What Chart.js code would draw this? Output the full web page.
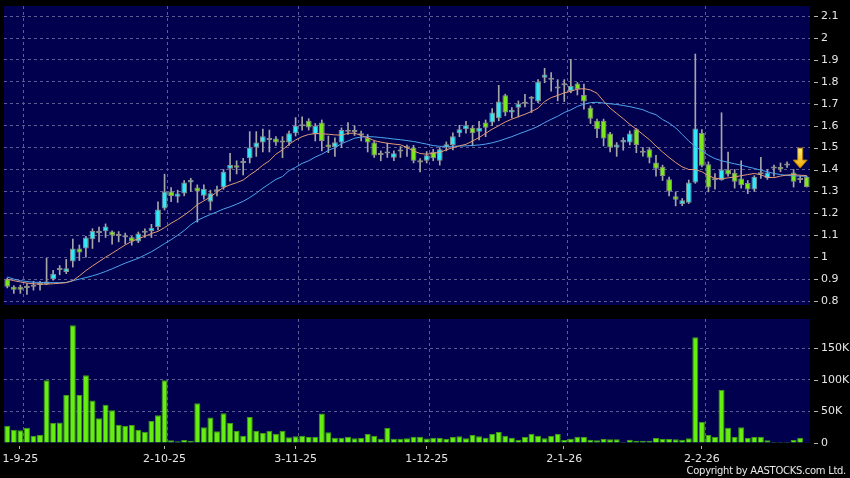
<!DOCTYPE html>
<html>
<head>
<meta charset="utf-8">
<script src="https://cdn.jsdelivr.net/npm/chart.js@4"></script>
<style>
  html, body { margin: 0; padding: 0; background: #000; }
  #wrap { position: relative; width: 850px; height: 478px; background: #000; overflow: hidden; }
  canvas { position: absolute; left: 0; }
  #priceChart { top: 0; }
  #volChart { top: 310px; }
  #copy { position: absolute; right: 4px; top: 465px; color: #e8e8e8; font: 10px "DejaVu Sans"; letter-spacing: -0.3px; }
</style>
</head>
<body>
<div id="wrap">
  <canvas id="priceChart" width="850" height="310"></canvas>
  <canvas id="volChart" width="850" height="168"></canvas>
  <div id="copy">Copyright by AASTOCKS.com Ltd.</div>
</div>
<script>
// daily OHLC (123 trading days)
const opens = [0.90,0.865,0.865,0.86,0.865,0.873,0.878,0.90,0.95,0.932,
  0.98,1.04,1.04,1.082,1.12,1.118,1.117,1.106,1.091,1.091,
  1.072,1.112,1.12,1.138,1.222,1.30,1.276,1.291,1.341,1.318,
  1.28,1.253,1.30,1.318,1.404,1.419,1.43,1.451,1.50,1.523,
  1.535,1.541,1.53,1.523,1.565,1.597,1.622,1.562,1.614,1.514,
  1.502,1.523,1.572,1.58,1.558,1.545,1.523,1.468,1.482,1.454,
  1.482,1.50,1.50,1.442,1.44,1.481,1.44,1.50,1.512,1.565,
  1.584,1.591,1.572,1.614,1.614,1.634,1.739,1.66,1.682,1.70,
  1.723,1.71,1.819,1.81,1.77,1.784,1.758,1.792,1.74,1.682,
  1.622,1.622,1.564,1.50,1.523,1.523,1.584,1.477,1.492,1.432,
  1.413,1.356,1.278,1.243,1.249,1.341,1.567,1.424,1.359,1.351,
  1.40,1.385,1.359,1.339,1.309,1.378,1.36,1.405,1.412,1.427,
  1.387,1.352,1.367];
const highs = [0.905,0.87,0.873,0.88,0.89,0.89,0.995,0.94,0.962,0.99,
  1.083,1.056,1.095,1.13,1.137,1.152,1.12,1.117,1.11,1.095,
  1.115,1.13,1.15,1.253,1.379,1.318,1.306,1.35,1.36,1.33,
  1.33,1.306,1.325,1.40,1.474,1.44,1.451,1.573,1.573,1.584,
  1.58,1.55,1.55,1.575,1.637,1.64,1.632,1.61,1.626,1.553,
  1.545,1.59,1.614,1.60,1.575,1.56,1.53,1.485,1.52,1.485,
  1.505,1.512,1.51,1.45,1.482,1.492,1.50,1.526,1.567,1.602,
  1.62,1.60,1.62,1.626,1.678,1.784,1.744,1.683,1.713,1.743,
  1.733,1.81,1.862,1.842,1.81,1.81,1.903,1.797,1.79,1.69,
  1.63,1.63,1.57,1.523,1.545,1.576,1.587,1.50,1.50,1.465,
  1.42,1.365,1.298,1.268,1.352,1.927,1.582,1.435,1.382,1.659,
  1.48,1.40,1.44,1.35,1.372,1.456,1.40,1.42,1.43,1.435,
  1.40,1.37,1.37];
const lows = [0.86,0.835,0.835,0.83,0.85,0.85,0.875,0.895,0.92,0.925,
  0.955,0.985,1.0,1.04,1.07,1.09,1.06,1.07,1.06,1.055,
  1.066,1.09,1.09,1.125,1.215,1.253,1.25,1.28,1.30,1.16,
  1.265,1.215,1.28,1.31,1.347,1.38,1.375,1.43,1.46,1.48,
  1.48,1.51,1.454,1.51,1.553,1.58,1.58,1.53,1.485,1.477,
  1.46,1.50,1.56,1.555,1.53,1.48,1.455,1.44,1.455,1.44,
  1.455,1.46,1.43,1.389,1.43,1.44,1.42,1.485,1.49,1.55,
  1.566,1.508,1.535,1.55,1.60,1.622,1.645,1.635,1.64,1.686,
  1.66,1.705,1.796,1.758,1.713,1.71,1.75,1.74,1.675,1.61,
  1.545,1.508,1.48,1.46,1.488,1.512,1.477,1.461,1.43,1.37,
  1.35,1.28,1.234,1.235,1.245,1.337,1.412,1.298,1.31,1.351,
  1.37,1.315,1.315,1.29,1.30,1.36,1.355,1.37,1.39,1.41,
  1.32,1.34,1.32];
const closes = [0.865,0.852,0.852,0.862,0.873,0.876,0.889,0.925,0.942,0.95,
  1.04,1.022,1.09,1.12,1.11,1.14,1.099,1.097,1.10,1.072,
  1.108,1.115,1.134,1.218,1.30,1.279,1.291,1.341,1.352,1.30,
  1.312,1.292,1.31,1.39,1.421,1.408,1.432,1.50,1.523,1.552,
  1.538,1.523,1.523,1.565,1.60,1.602,1.592,1.60,1.53,1.502,
  1.524,1.58,1.58,1.571,1.556,1.523,1.464,1.466,1.473,1.474,
  1.484,1.497,1.44,1.432,1.465,1.452,1.492,1.515,1.552,1.584,
  1.602,1.565,1.591,1.591,1.66,1.71,1.66,1.672,1.70,1.701,
  1.731,1.80,1.834,1.81,1.77,1.793,1.781,1.766,1.71,1.632,
  1.584,1.541,1.50,1.514,1.535,1.564,1.512,1.477,1.454,1.404,
  1.37,1.30,1.262,1.26,1.341,1.587,1.417,1.318,1.351,1.40,
  1.377,1.344,1.328,1.309,1.367,1.382,1.387,1.41,1.40,1.418,
  1.344,1.36,1.32];

// moving averages as drawn
const maShort = [0.900,0.893,0.887,0.882,0.879,0.877,0.877,0.879,0.881,0.884,
  0.893,0.915,0.939,0.960,0.980,1.000,1.018,1.037,1.056,1.072,
  1.085,1.095,1.108,1.118,1.135,1.155,1.172,1.192,1.214,1.240,
  1.257,1.275,1.298,1.318,1.330,1.340,1.352,1.375,1.395,1.420,
  1.440,1.470,1.490,1.515,1.535,1.550,1.560,1.564,1.563,1.561,
  1.558,1.557,1.565,1.566,1.555,1.545,1.532,1.525,1.520,1.516,
  1.513,1.500,1.485,1.473,1.470,1.474,1.478,1.490,1.500,1.508,
  1.515,1.530,1.546,1.565,1.584,1.600,1.617,1.630,1.641,1.652,
  1.665,1.680,1.710,1.728,1.738,1.750,1.757,1.767,1.769,1.763,
  1.748,1.712,1.680,1.656,1.632,1.606,1.584,1.560,1.536,1.507,
  1.480,1.455,1.432,1.412,1.400,1.400,1.390,1.372,1.360,1.358,
  1.362,1.366,1.372,1.377,1.382,1.376,1.364,1.363,1.370,1.375,
  1.377,1.374,1.372];
const maLong = [0.910,0.900,0.893,0.889,0.886,0.885,0.884,0.884,0.884,0.885,
  0.893,0.900,0.907,0.915,0.924,0.935,0.947,0.960,0.973,0.984,
  0.995,1.010,1.025,1.043,1.062,1.080,1.100,1.122,1.148,1.168,
  1.182,1.195,1.207,1.220,1.230,1.242,1.255,1.272,1.292,1.315,
  1.335,1.355,1.368,1.395,1.410,1.428,1.440,1.457,1.470,1.487,
  1.500,1.518,1.530,1.543,1.548,1.550,1.549,1.546,1.543,1.539,
  1.536,1.532,1.528,1.522,1.516,1.509,1.506,1.505,1.506,1.507,
  1.508,1.510,1.512,1.516,1.522,1.530,1.540,1.550,1.562,1.573,
  1.584,1.597,1.614,1.629,1.643,1.660,1.672,1.688,1.698,1.705,
  1.707,1.703,1.700,1.697,1.692,1.687,1.680,1.673,1.660,1.650,
  1.628,1.612,1.590,1.560,1.530,1.505,1.485,1.465,1.450,1.440,
  1.433,1.426,1.420,1.412,1.405,1.397,1.390,1.382,1.377,1.373,
  1.371,1.370,1.369];

// volume in thousands of shares
const volumes = [27.4,21,20,24,11.6,12.6,99,31.6,32.6,76,
  186,76,107,67,39,60.5,51.6,29,26.8,28.4,
  21,17.9,34.7,44,99,4.2,2.6,4.7,3.7,63,
  25,40.5,18.4,47,31.6,19,11.6,41,19,15.8,
  19.5,14.7,19.5,8.9,10.5,11.6,9.5,9.5,46.8,16.8,
  8.4,8.4,10,7.4,7.9,14.2,11.6,6.8,23.7,6.8,
  6.8,7.4,10,10,7,8.4,7.9,6.3,9.5,10.5,
  7.4,12.6,10.5,8.4,14.2,17.4,11.6,8.4,5.3,9.5,
  14.7,11.6,7.4,11,14.2,4.7,6.8,10,9.5,5.3,
  4.2,6.3,5.8,5.8,1.6,5.3,3.7,3.7,3.7,7.9,
  6.3,6.3,5.8,5.3,7.4,167,33.7,12.6,9.5,84,
  24,9.5,25,7.9,9.5,10,4.2,1.6,1.6,1.6,
  4.7,8.4,1];

const tickIndex = [2, 24, 44, 64, 85, 106];
const tickLabels = ['1-9-25', '2-10-25', '3-11-25', '1-12-25', '2-1-26', '2-2-26'];
const arrowAt = 121;

const days = opens.map((_, i) => i);

const NAVY = '#00004e';
const GRID = '#5c5c92';
const UP = '#33e8f4';
const DOWN = '#7ce81c';
const TEXT = '#e6e6e6';

Chart.defaults.font.family = 'DejaVu Sans';
Chart.defaults.font.size = 11;
Chart.defaults.color = TEXT;

// keep the plot area exactly where the layout padding puts it
function noScalePadding(s) {
  s.paddingTop = 0;
  s.paddingBottom = 0;
  s.paddingLeft = 0;
  s.paddingRight = 0;
}

// navy plot area
const plotBg = {
  id: 'plotBg',
  beforeDraw(chart) {
    const { ctx, chartArea: a } = chart;
    ctx.save();
    ctx.fillStyle = NAVY;
    ctx.fillRect(a.left, a.top, a.right - a.left, a.bottom - a.top);
    ctx.restore();
  }
};

// little dashes before the right hand labels
const yMarks = {
  id: 'yMarks',
  afterDraw(chart) {
    const { ctx, chartArea: a } = chart;
    const s = chart.scales.y;
    ctx.save();
    ctx.strokeStyle = '#b4b4b4';
    ctx.lineWidth = 1;
    s.ticks.forEach(t => {
      const py = Math.round(s.getPixelForValue(t.value)) + 0.5;
      ctx.beginPath();
      ctx.moveTo(a.right + 4, py);
      ctx.lineTo(a.right + 8, py);
      ctx.stroke();
    });
    ctx.restore();
  }
};

// yellow arrow above the latest bar
const arrowMarker = {
  id: 'arrowMarker',
  afterDatasetsDraw(chart) {
    const { ctx, scales: { x, y } } = chart;
    const cx = x.getPixelForValue(arrowAt);
    const tip = y.getPixelForValue(highs[arrowAt]) - 8;
    const g = ctx.createLinearGradient(0, tip - 20, 0, tip);
    g.addColorStop(0, '#fff27a');
    g.addColorStop(1, '#f2a600');
    ctx.save();
    ctx.fillStyle = g;
    ctx.strokeStyle = '#b07800';
    ctx.lineWidth = 1;
    ctx.beginPath();
    ctx.moveTo(cx - 2.5, tip - 20);
    ctx.lineTo(cx + 2.5, tip - 20);
    ctx.lineTo(cx + 2.5, tip - 8);
    ctx.lineTo(cx + 7, tip - 8);
    ctx.lineTo(cx, tip);
    ctx.lineTo(cx - 7, tip - 8);
    ctx.lineTo(cx - 2.5, tip - 8);
    ctx.closePath();
    ctx.fill();
    ctx.stroke();
    ctx.restore();
  }
};

// small tick marks under the date labels
const xMarks = {
  id: 'xMarks',
  afterDraw(chart) {
    const { ctx, chartArea: a } = chart;
    const s = chart.scales.x;
    ctx.save();
    ctx.strokeStyle = '#b4b4b4';
    tickIndex.forEach(i => {
      const px = Math.round(s.getPixelForValue(i)) - 0.5;
      ctx.beginPath();
      ctx.moveTo(px, a.bottom + 3);
      ctx.lineTo(px, a.bottom + 6);
      ctx.stroke();
    });
    ctx.restore();
  }
};

// vertical grid lines sit on the right border of each labelled day
const xGridColor = ctx => tickIndex.includes(ctx.index - 1) ? GRID : 'transparent';

const priceChart = new Chart(document.getElementById('priceChart'), {
  type: 'bar',
  data: {
    labels: days,
    datasets: [
      {
        type: 'line',
        data: maShort,
        borderColor: '#e39a74',
        borderWidth: 1,
        pointRadius: 0,
        order: 0
      },
      {
        type: 'line',
        data: maLong,
        borderColor: '#4fa6ee',
        borderWidth: 1,
        pointRadius: 0,
        order: 0
      },
      {
        data: opens.map((o, i) => [o, closes[i]]),
        backgroundColor: opens.map((o, i) => closes[i] >= o ? UP : DOWN),
        borderColor: '#8c8c8c',
        borderWidth: 1,
        borderSkipped: false,
        minBarLength: 2,
        barPercentage: 0.88,
        categoryPercentage: 1,
        grouped: false,
        order: 1
      },
      {
        data: lows.map((l, i) => [l, highs[i]]),
        backgroundColor: '#a6a6a6',
        barThickness: 1,
        grouped: false,
        order: 2
      }
    ]
  },
  options: {
    responsive: false,
    animation: false,
    devicePixelRatio: 1,
    layout: { padding: { left: 4, top: 6, right: 0, bottom: 5 } },
    plugins: { legend: { display: false }, tooltip: { enabled: false } },
    scales: {
      x: {
        ticks: { display: false, autoSkip: false },
        grid: { color: xGridColor, offset: true, drawTicks: false },
        border: { display: false, dash: [3, 3] },
        afterFit: s => { s.height = 0; noScalePadding(s); }
      },
      y: {
        position: 'right',
        min: 0.782,
        max: 2.146,
        ticks: {
          stepSize: 0.1,
          includeBounds: false,
          padding: 11,
          callback: v => String(Math.round(v * 10) / 10)
        },
        grid: { color: GRID, drawTicks: false },
        border: { display: false, dash: [3, 3] },
        afterFit: s => { s.width = 40; noScalePadding(s); }
      }
    }
  },
  plugins: [plotBg, yMarks, arrowMarker]
});

const volChart = new Chart(document.getElementById('volChart'), {
  type: 'bar',
  data: {
    labels: days,
    datasets: [{
      data: volumes,
      backgroundColor: '#66ee11',
      borderColor: '#3f9a14',
      borderWidth: 1,
      barPercentage: 0.92,
      categoryPercentage: 1
    }]
  },
  options: {
    responsive: false,
    animation: false,
    devicePixelRatio: 1,
    layout: { padding: { left: 4, top: 9, right: 0, bottom: 0 } },
    plugins: { legend: { display: false }, tooltip: { enabled: false } },
    scales: {
      x: {
        ticks: {
          autoSkip: false,
          maxRotation: 0,
          padding: 10,
          callback: (v, i) => {
            const k = tickIndex.indexOf(i);
            return k >= 0 ? tickLabels[k] : '';
          }
        },
        grid: { color: xGridColor, offset: true, drawTicks: false },
        border: { display: false, dash: [3, 3] },
        afterFit: s => { s.height = 35; noScalePadding(s); }
      },
      y: {
        position: 'right',
        min: 0,
        max: 196,
        ticks: {
          stepSize: 50,
          includeBounds: false,
          padding: 11,
          callback: v => v === 0 ? '0' : v + 'K'
        },
        grid: { color: ctx => ctx.tick && ctx.tick.value === 0 ? 'transparent' : GRID, drawTicks: false },
        border: { display: false, dash: [3, 3] },
        afterFit: s => { s.width = 40; noScalePadding(s); }
      }
    }
  },
  plugins: [plotBg, yMarks, xMarks]
});
</script>
</body>
</html>
